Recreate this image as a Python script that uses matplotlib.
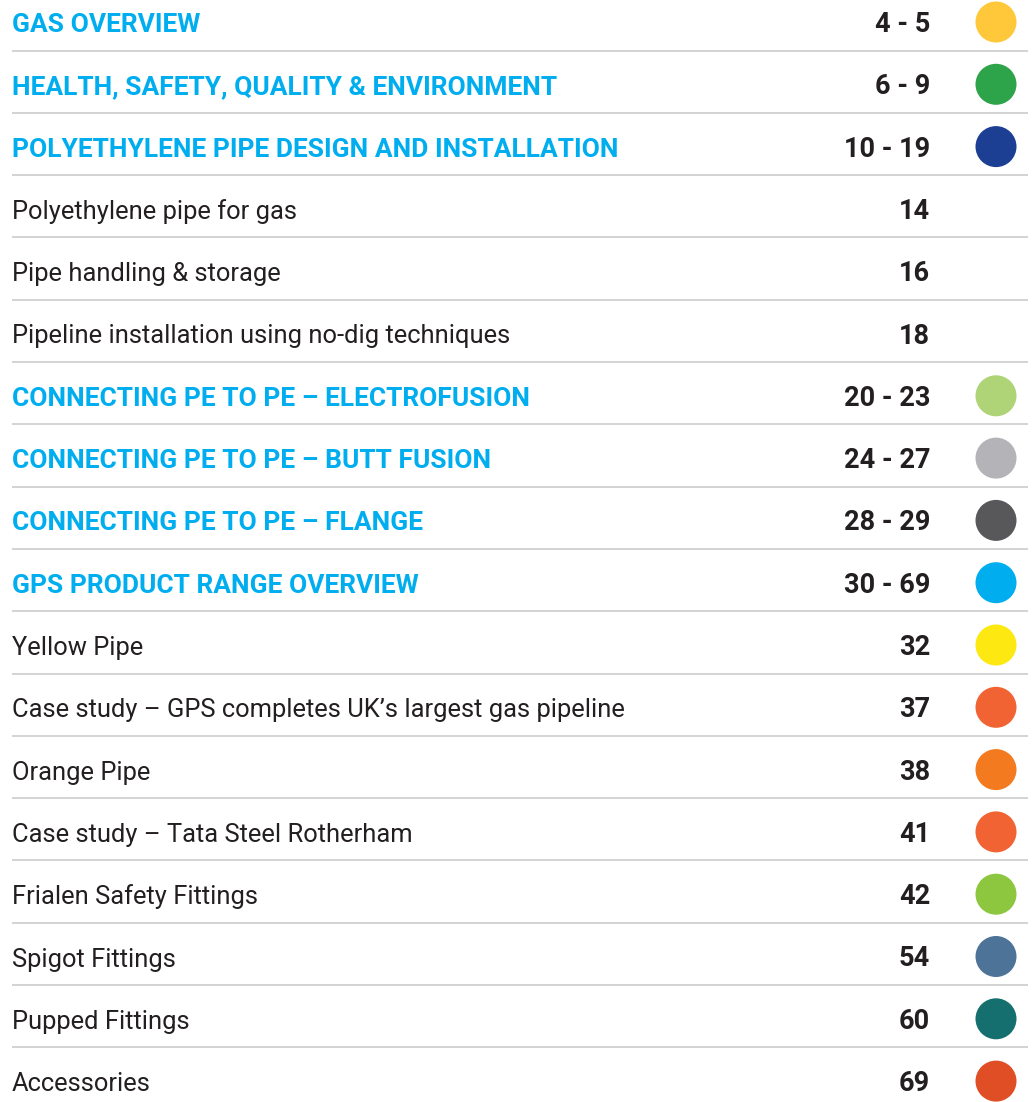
import matplotlib
matplotlib.use("Agg")
import matplotlib.pyplot as plt
from matplotlib.patches import Circle

titles = [
    "GAS OVERVIEW",
    "HEALTH, SAFETY, QUALITY & ENVIRONMENT",
    "POLYETHYLENE PIPE DESIGN AND INSTALLATION",
    "Polyethylene pipe for gas",
    "Pipe handling & storage",
    "Pipeline installation using no-dig techniques",
    "CONNECTING PE TO PE \u2013 ELECTROFUSION",
    "CONNECTING PE TO PE \u2013 BUTT FUSION",
    "CONNECTING PE TO PE \u2013 FLANGE",
    "GPS PRODUCT RANGE OVERVIEW",
    "Yellow Pipe",
    "Case study \u2013 GPS completes UK\u2019s largest gas pipeline",
    "Orange Pipe",
    "Case study \u2013 Tata Steel Rotherham",
    "Frialen Safety Fittings",
    "Spigot Fittings",
    "Pupped Fittings",
    "Accessories",
]
pages = ["4 - 5", "6 - 9", "10 - 19", "14", "16", "18", "20 - 23", "24 - 27",
         "28 - 29", "30 - 69", "32", "37", "38", "41", "42", "54", "60", "69"]
is_heading = [True, True, True, False, False, False, True, True, True, True,
              False, False, False, False, False, False, False, False]
dot_colors = ["#FFC83A", "#2EA44A", "#1C3F94", None, None, None, "#AED477",
              "#B4B4B8", "#58585A", "#00AEEF", "#FDE812", "#F26333", "#F47A20",
              "#F26333", "#8DC63F", "#4E7399", "#156F6E", "#E04E26"]

W, H = 1033, 1102
fig = plt.figure(figsize=(W / 100, H / 100), dpi=100)
ax = fig.add_axes([0, 0, 1, 1])
ax.set_xlim(0, W)
ax.set_ylim(H, 0)
ax.axis("off")

row0, pitch = 22.0, 62.3
heading_color = "#00AEEF"
text_color = "#231F20"
fam = ["Roboto", "DejaVu Sans"]

for i, (t, p, hd, c) in enumerate(zip(titles, pages, is_heading, dot_colors)):
    yc = row0 + pitch * i
    yb = yc + 10
    if hd:
        ax.text(12, yb, t, fontsize=19.0, fontweight="bold", color=heading_color,
                family=fam, va="baseline", ha="left")
    else:
        ax.text(12, yb, t, fontsize=18.4, color=text_color,
                family=fam, va="baseline", ha="left")
    ax.text(930, yb, p, fontsize=19.5, fontweight="bold", color=text_color,
            family=fam, va="baseline", ha="right")
    if c is not None:
        ax.add_patch(Circle((996, yc), 20.5, color=c, lw=0))
    if i < len(titles) - 1:
        ax.plot([12, 1028], [yc + 28.5, yc + 28.5], color="#C8C8C8", lw=1.1,
                solid_capstyle="butt")

fig.savefig("out.png", dpi=100, facecolor="white")
